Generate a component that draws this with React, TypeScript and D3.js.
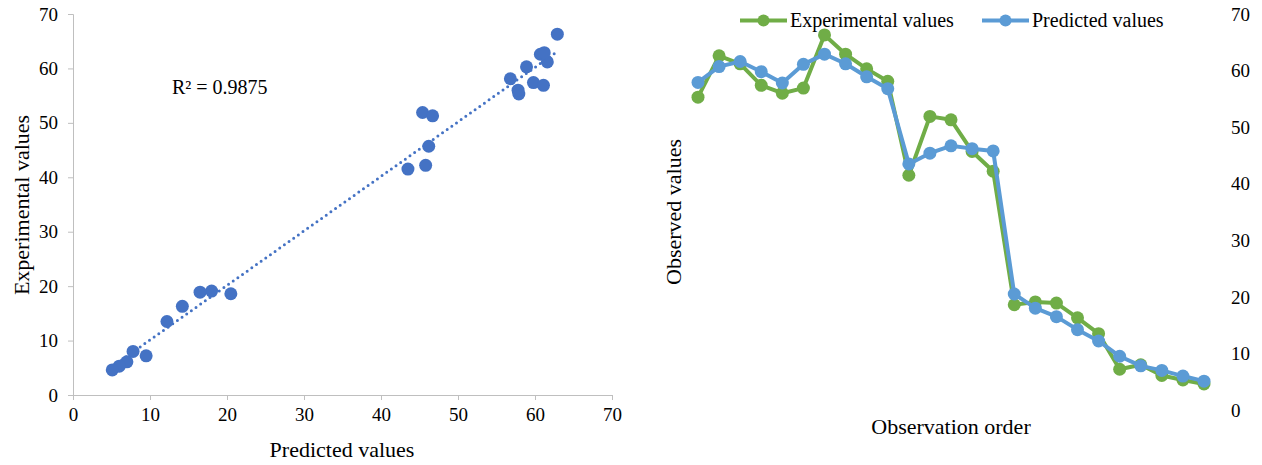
import React, { useRef, useEffect } from "react";
import * as d3 from "d3";

// predicted (model) and experimental values, in observation order
const predicted = [57.9, 60.7, 61.6, 59.8, 57.8, 61.1, 62.9, 61.2, 58.9, 56.8, 43.5, 45.4, 46.7, 46.2, 45.8, 20.5, 18.0, 16.5, 14.2, 12.2, 9.5, 7.8, 7.0, 6.0, 5.1];
const experimental = [55.3, 62.6, 61.2, 57.4, 56.0, 56.9, 66.3, 62.9, 60.3, 58.1, 41.5, 51.9, 51.3, 45.7, 42.2, 18.6, 19.1, 18.9, 16.3, 13.5, 7.2, 8.0, 6.1, 5.3, 4.6];
const observation = d3.range(1, predicted.length + 1);
const ticks = [0, 10, 20, 30, 40, 50, 60, 70];
const seriesNames = ["Experimental values", "Predicted values"];
const r2Label = "R² = 0.9875";

const FONT = "'Liberation Serif', 'Times New Roman', serif";
const GREEN = "#70AD47";
const BLUE = "#5B9BD5";
const DARKBLUE = "#4472C4";

const App: React.FC = () => {
  const ref = useRef<SVGSVGElement | null>(null);

  useEffect(() => {
    if (!ref.current) return;
    const svg = d3.select(ref.current);
    svg.selectAll("*").remove();
    svg.attr("font-family", FONT);

    // ---------- left: scatter plot ----------
    const x = d3.scaleLinear().domain([0, 70]).range([73, 612]);
    const y = d3.scaleLinear().domain([0, 70]).range([395, 14]);
    const left = svg.append("g");

    const xAxis = d3.axisBottom(x).tickValues(ticks).tickSize(5).tickPadding(8);
    left.append("g").attr("transform", `translate(0,${y(0)})`).call(xAxis)
      .attr("font-family", FONT).attr("font-size", 19)
      .call((g) => g.selectAll("path, line").attr("stroke", "#BFBFBF"))
      .call((g) => g.selectAll("text").attr("fill", "#000"));

    const yAxis = d3.axisLeft(y).tickValues(ticks).tickSize(5).tickPadding(10);
    left.append("g").attr("transform", `translate(${x(0)},0)`).call(yAxis)
      .attr("font-family", FONT).attr("font-size", 19)
      .call((g) => g.selectAll("path, line").attr("stroke", "#BFBFBF"))
      .call((g) => g.selectAll("text").attr("fill", "#000"));

    // linear trendline (least squares)
    const mx = d3.mean(predicted)!;
    const my = d3.mean(experimental)!;
    let sxy = 0, sxx = 0;
    predicted.forEach((p, i) => {
      sxy += (p - mx) * (experimental[i] - my);
      sxx += (p - mx) * (p - mx);
    });
    const slope = sxy / sxx;
    const icpt = my - slope * mx;
    const [x0, x1] = d3.extent(predicted) as [number, number];
    left.append("line")
      .attr("x1", x(x0)).attr("y1", y(slope * x0 + icpt))
      .attr("x2", x(x1)).attr("y2", y(slope * x1 + icpt))
      .attr("stroke", DARKBLUE)
      .attr("stroke-width", 3)
      .attr("stroke-linecap", "round")
      .attr("stroke-dasharray", "0 5.7");

    left.selectAll("circle.pt")
      .data(predicted)
      .enter()
      .append("circle")
      .attr("class", "pt")
      .attr("cx", (d) => x(d))
      .attr("cy", (d, i) => y(experimental[i]))
      .attr("r", 6.5)
      .attr("fill", DARKBLUE);

    left.append("text")
      .attr("x", 172).attr("y", 94)
      .attr("font-size", 20)
      .text(r2Label);

    left.append("text")
      .attr("x", 342).attr("y", 457)
      .attr("text-anchor", "middle")
      .attr("font-size", 22)
      .text("Predicted values");

    left.append("text")
      .attr("transform", "translate(29,205) rotate(-90)")
      .attr("text-anchor", "middle")
      .attr("font-size", 22)
      .text("Experimental values");

    // ---------- right: line chart ----------
    const xo = d3.scalePoint<number>().domain(observation).range([698, 1204]);
    const yo = d3.scaleLinear().domain([0, 70]).range([410, 14]);
    const right = svg.append("g");

    right.selectAll("text.ytick")
      .data(ticks)
      .enter()
      .append("text")
      .attr("class", "ytick")
      .attr("x", 1231)
      .attr("y", (d) => yo(d))
      .attr("dy", "0.35em")
      .attr("font-size", 19)
      .text((d) => d);

    const series = [
      { name: seriesNames[0], values: experimental, color: GREEN },
      { name: seriesNames[1], values: predicted, color: BLUE },
    ];
    const line = d3.line<number>().x((d, i) => xo(observation[i])!).y((d) => yo(d));

    series.forEach((s) => {
      right.append("path")
        .datum(s.values)
        .attr("fill", "none")
        .attr("stroke", s.color)
        .attr("stroke-width", 4)
        .attr("stroke-linejoin", "round")
        .attr("d", line);
      right.selectAll(null)
        .data(s.values)
        .enter()
        .append("circle")
        .attr("cx", (d, i) => xo(observation[i])!)
        .attr("cy", (d) => yo(d))
        .attr("r", 6.5)
        .attr("fill", s.color);
    });

    // legend
    const legendX = [740, 982];
    series.forEach((s, i) => {
      const lg = right.append("g").attr("transform", `translate(${legendX[i]},20.5)`);
      lg.append("line").attr("x1", 0).attr("x2", 47).attr("stroke", s.color).attr("stroke-width", 4);
      lg.append("circle").attr("cx", 23.5).attr("r", 6).attr("fill", s.color);
      lg.append("text").attr("x", 50).attr("dy", "0.33em").attr("font-size", 20).text(s.name);
    });

    right.append("text")
      .attr("x", 951).attr("y", 434)
      .attr("text-anchor", "middle")
      .attr("font-size", 22)
      .text("Observation order");

    right.append("text")
      .attr("transform", "translate(681,212) rotate(-90)")
      .attr("text-anchor", "middle")
      .attr("font-size", 22)
      .text("Observed values");
  }, []);

  return (
    <svg
      ref={ref}
      width={1262}
      height={465}
      style={{ position: "absolute", left: 0, top: 0, background: "#fff" }}
    />
  );
};

export default App;
